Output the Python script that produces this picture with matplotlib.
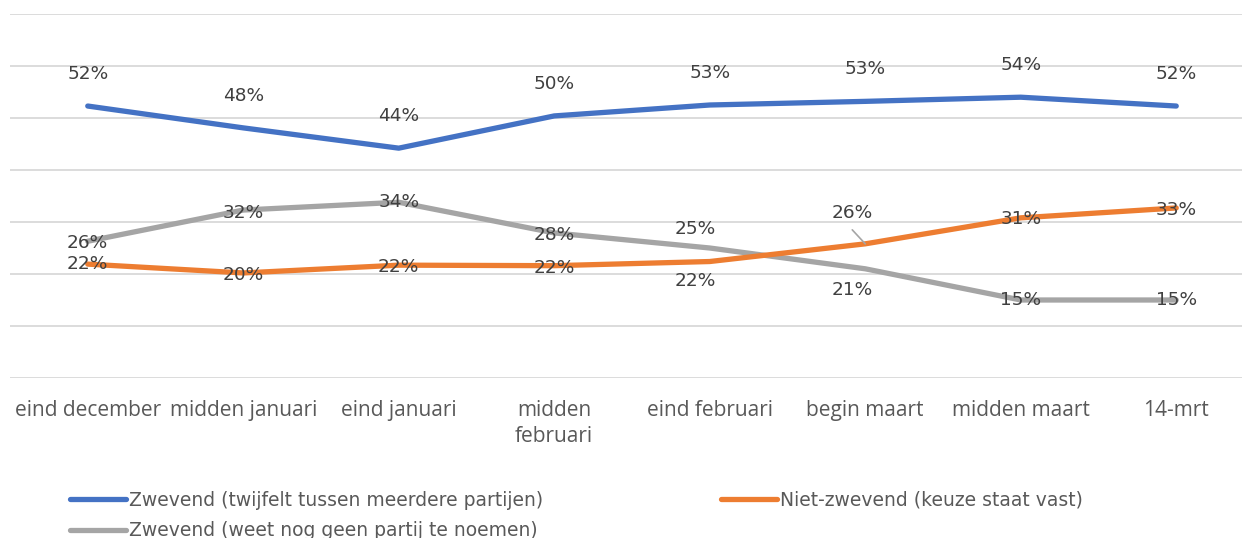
import matplotlib.pyplot as plt

# categorieën en reeksen
categories = ['eind december', 'midden januari', 'eind januari', 'midden\nfebruari',
              'eind februari', 'begin maart', 'midden maart', '14-mrt']
twijfelt = [52.3, 48.1, 44.2, 50.4, 52.5, 53.2, 54.0, 52.3]
twijfelt_labels = ['52%', '48%', '44%', '50%', '53%', '53%', '54%', '52%']
vast = [21.9, 20.2, 21.7, 21.6, 22.4, 25.8, 30.8, 32.7]
vast_labels = ['22%', '20%', '22%', '22%', '22%', '26%', '31%', '33%']
geen_partij = [26.3, 32.3, 33.8, 27.9, 25.0, 21.0, 15.0, 15.0]
geen_partij_labels = ['26%', '32%', '34%', '28%', '25%', '21%', '15%', '15%']

names = ['Zwevend (twijfelt tussen meerdere partijen)',
         'Niet-zwevend (keuze staat vast)',
         'Zwevend (weet nog geen partij te noemen)']

BLUE, ORANGE, GREY = '#4472C4', '#ED7D31', '#A5A5A5'

# label-offsets in pixels (dx, dy), positief dy = omhoog
off_blue = [(0, 32)] * 8
off_orange = [(0, 0), (0, -2), (0, -2), (0, -2), (-14, -19), (-13, 31), (0, -1), (0, -2)]
off_grey = [(0, -2), (0, -3), (0, 0), (0, -2), (-14, 19), (-13, -21), (0, 0), (0, 0)]

fig = plt.figure(figsize=(12.42, 5.38), dpi=100)
ax = fig.add_axes([10 / 1242, 1 - 378 / 538, 1244 / 1242, 364 / 538])

x = range(len(categories))
l1, = ax.plot(x, twijfelt, color=BLUE, lw=3.8, solid_capstyle='round', zorder=3)
l2, = ax.plot(x, vast, color=ORANGE, lw=3.8, solid_capstyle='round', zorder=3)
l3, = ax.plot(x, geen_partij, color=GREY, lw=3.8, solid_capstyle='round', zorder=2)

for vals, labs, offs in [(twijfelt, twijfelt_labels, off_blue),
                         (vast, vast_labels, off_orange),
                         (geen_partij, geen_partij_labels, off_grey)]:
    for i, (v, t, o) in enumerate(zip(vals, labs, offs)):
        ax.annotate(t, (i, v), xytext=o, textcoords='offset pixels',
                    ha='center', va='center', fontsize=13.3, color='#404040',
                    family='DejaVu Sans', zorder=5)

# leader line voor 26%
ax.annotate('', (5, vast[5]), xytext=(-13, 14), textcoords='offset pixels',
            arrowprops=dict(arrowstyle='-', color='#A5A5A5', lw=1.2,
                            shrinkA=0, shrinkB=0), zorder=4)

ax.set_xlim(-0.5, 7.5)
ax.set_ylim(0, 70)
ax.set_yticks(range(0, 71, 10))
ax.yaxis.grid(True, color='#D9D9D9', lw=1.3)
ax.set_axisbelow(True)
ax.tick_params(left=False, labelleft=False, bottom=False)
for s in ax.spines.values():
    s.set_visible(False)
ax.set_xticks(list(x))
ax.set_xticklabels(categories, family='Open Sans', fontsize=15, color='#595959',
                   linespacing=1.35)
ax.tick_params(axis='x', pad=12)

leg_kw = dict(frameon=False, loc='upper left', handlelength=3.0,
              handletextpad=0.16, borderpad=0, borderaxespad=0, labelspacing=0.6,
              labelcolor='#595959',
              prop=dict(family='DejaVu Sans', size=13.5))
fig.legend([l1, l3], [names[0], names[2]], bbox_to_anchor=(70 / 1242, 1 - 491 / 538), **leg_kw)
fig.legend([l2], [names[1]], bbox_to_anchor=(721 / 1242, 1 - 491 / 538), **leg_kw)

fig.savefig('out.png', dpi=100)
